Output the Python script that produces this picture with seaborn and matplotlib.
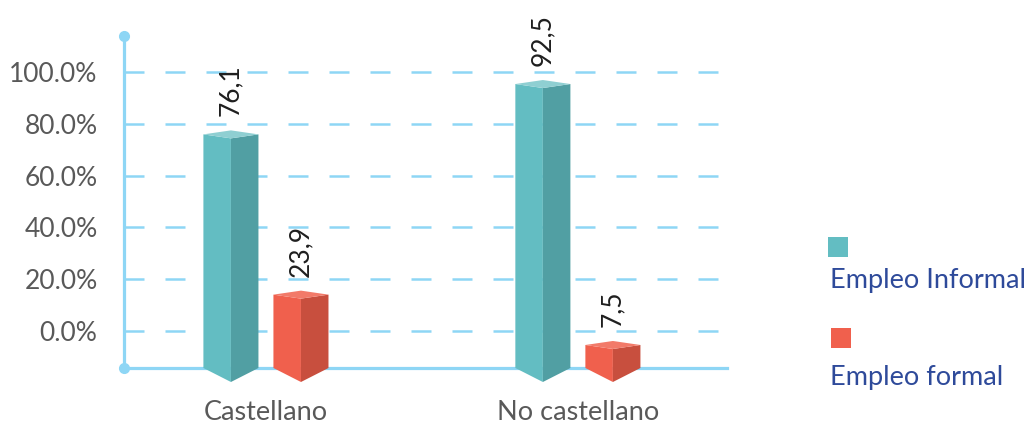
import matplotlib
matplotlib.use("Agg")
import matplotlib.pyplot as plt
from matplotlib.patches import Polygon, Rectangle
import seaborn as sns
import pandas as pd
import numpy as np

# ---- data ----
categories = ["Castellano", "No castellano"]
series = ["Empleo Informal", "Empleo formal"]
informal = [76.1, 92.5]
formal = [23.9, 7.5]
y_ticks = [0, 20, 40, 60, 80, 100]
y_tick_labels = ["0.0%", "20.0%", "40.0%", "60.0%", "80.0%", "100.0%"]

# ---- styling ----
front_cols = {"Empleo Informal": "#63BDC2", "Empleo formal": "#F0604D"}
side_cols = {"Empleo Informal": "#519FA3", "Empleo formal": "#C84F3E"}
top_cols = {"Empleo Informal": "#8FCFD2", "Empleo formal": "#F27A69"}
axis_col = "#8ED6F5"
text_grey = "#595959"
legend_col = "#2E4A9A"

sns.set_theme(style="white")
plt.rcParams["font.family"] = ["Lato", "DejaVu Sans"]

df = pd.DataFrame({
    "cat": categories * 2,
    "serie": [series[0]] * 2 + [series[1]] * 2,
    "val": informal + formal,
})

W, H = 1034, 428
fig = plt.figure(figsize=(W / 100, H / 100), dpi=100)
ax_left, ax_right, ax_top, ax_bot = 124, 727, 36, 368
ax = fig.add_axes([ax_left / W, (H - ax_bot) / H, (ax_right - ax_left) / W, (ax_bot - ax_top) / H])

# wall scale (gridlines): 0% at px 331, 100% at px 72
px0, px100 = 331, 72
ppu = (px0 - px100) / 100.0
ax.set_ylim(-(ax_bot - px0) / ppu, (px0 - ax_top) / ppu)

ax2 = ax.twinx()
bar_ppu = 3.07
sns.barplot(data=df, x="cat", y="val", hue="serie", hue_order=series, order=categories,
            palette=front_cols, width=0.449, gap=0.214, ax=ax2, legend=False,
            saturation=1, edgecolor="none")
ax2.set_ylim(0, (ax_bot - ax_top) / bar_ppu)
ax.set_xlim(-0.455, 1.478)
ax2.set_xlim(-0.455, 1.478)

# y axis / grid
ax.set_yticks(y_ticks)
ax.set_yticklabels(y_tick_labels, fontsize=19, color=text_grey)
ax.set_xticks(range(len(categories)))
ax.set_xticklabels(categories, fontsize=19.5, color=text_grey)
ax.tick_params(axis="y", length=0, pad=19)
ax.tick_params(axis="x", length=0, pad=23)
ax.grid(axis="y", color=axis_col, linewidth=1.8, linestyle=(0, (8, 8.4)))
ax.grid(axis="x", visible=False)
for s in ["top", "right"]:
    ax.spines[s].set_visible(False)
for s in ["left", "bottom"]:
    ax.spines[s].set_color(axis_col)
    ax.spines[s].set_linewidth(2.3)
ax.plot([0, 0], [0, 1], "o", color=axis_col, ms=7, transform=ax.transAxes, clip_on=False, zorder=5)
ax.set_xlabel("")
ax.set_ylabel("")

ax2.set_yticks([])
ax2.set_ylabel("")
ax2.set_xlabel("")
for s in ax2.spines.values():
    s.set_visible(False)

# ---- 3D-like bars built from seaborn's bar patches ----
inv = ax2.transData.inverted()
bars = list(ax2.patches)
hue_of = [series[i // len(categories)] for i in range(len(bars))]
for p, h in zip(bars, hue_of):
    x0, y0 = p.get_x(), p.get_y()
    x1, y1 = x0 + p.get_width(), y0 + p.get_height()
    (dx0, dy0), (dx1, dy1) = ax2.transData.transform([(x0, y0), (x1, y1)])
    xm = (dx0 + dx1) / 2
    tb, tt = 14, 4
    front = [(dx0, dy0), (xm, dy0 - tb), (xm, dy1 - tt), (dx0, dy1)]
    side = [(xm, dy0 - tb), (dx1, dy0), (dx1, dy1), (xm, dy1 - tt)]
    top = [(dx0, dy1), (xm, dy1 - tt), (dx1, dy1), (xm, dy1 + tt)]
    for pts, col in [(front, front_cols[h]), (side, side_cols[h]), (top, top_cols[h])]:
        ax2.add_patch(Polygon(inv.transform(pts), closed=True, facecolor=col,
                              edgecolor="none", clip_on=False, zorder=3))
    p.set_visible(False)
    val = p.get_height()
    ax2.annotate(f"{val:.1f}".replace(".", ","), xy=((x0 + x1) / 2, y1),
                 xytext=(0, 13), textcoords="offset points", rotation=90,
                 ha="center", va="bottom", fontsize=19, color="#1F1F1F")

# ---- legend (marker above label) ----
leg_items = [(series[0], front_cols[series[0]], 828, 237, 288),
             (series[1], front_cols[series[1]], 831, 328, 385)]
for name, col, x, ysq, ybase in leg_items:
    fig.patches.append(Rectangle((x / W, 1 - (ysq + 20) / H), 20 / W, 20 / H,
                                 transform=fig.transFigure, facecolor=col, edgecolor="none"))
    fig.text(830 / W, 1 - ybase / H, name, fontsize=19.5, color=legend_col,
             ha="left", va="baseline")

fig.savefig("out.png", dpi=100)
